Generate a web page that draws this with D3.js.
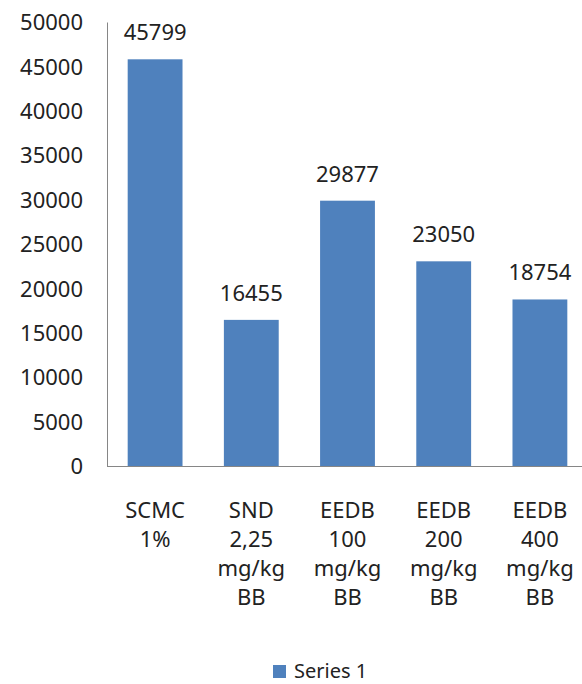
<!DOCTYPE html>
<html><head><meta charset="utf-8">
<script src="https://cdn.jsdelivr.net/npm/d3@7"></script>
<style>body{margin:0;background:#fff}svg{display:block}</style>
</head><body>
<script>
const categories = [
  ["SCMC","1%"],
  ["SND","2,25","mg/kg","BB"],
  ["EEDB","100","mg/kg","BB"],
  ["EEDB","200","mg/kg","BB"],
  ["EEDB","400","mg/kg","BB"]
];
const values = [45799, 16455, 29877, 23050, 18754];
const yTicks = [0,5000,10000,15000,20000,25000,30000,35000,40000,45000,50000];
const seriesName = "Series 1";

const W = 582, H = 684;
const font = "'Noto Sans', 'Open Sans', sans-serif";
const fs = 22;
const svg = d3.select("body").append("svg").attr("width", W).attr("height", H);

const x = d3.scaleBand().domain(d3.range(categories.length)).range([107, 588]).paddingInner(0.43).paddingOuter(0.215);
const y = d3.scaleLinear().domain([0, 50000]).range([466, 22]);

// bars
svg.selectAll("rect.bar").data(values).enter().append("rect")
  .attr("class","bar")
  .attr("x", (d,i) => x(i))
  .attr("width", x.bandwidth())
  .attr("y", d => y(d))
  .attr("height", d => y(0) - y(d))
  .attr("fill", "#4F81BD");

// axes lines
const yAxis = d3.axisLeft(y).tickValues(yTicks).tickFormat(d3.format("d")).tickSize(0).tickPadding(24);
const gy = svg.append("g").attr("transform","translate(107,0)").call(yAxis);
gy.select(".domain").attr("stroke","#868686").attr("stroke-width",1);
gy.selectAll("text").attr("font-family", font).attr("font-size", fs).attr("fill","#222").attr("dy","0.35em");

svg.append("line").attr("x1",107).attr("x2",W).attr("y1",y(0)+0.5).attr("y2",y(0)+0.5)
  .attr("stroke","#868686").attr("stroke-width",1);

// value labels
svg.selectAll("text.val").data(values).enter().append("text")
  .attr("class","val")
  .attr("x",(d,i)=>x(i)+x.bandwidth()/2)
  .attr("y", d => y(d) - 19)
  .attr("text-anchor","middle")
  .attr("font-family", font).attr("font-size", fs).attr("fill","#222")
  .text(d => d);

// category labels
const cat = svg.selectAll("text.cat").data(categories).enter().append("text")
  .attr("class","cat")
  .attr("text-anchor","middle")
  .attr("font-family", font).attr("font-size", fs).attr("fill","#222");
cat.each(function(lines,i){
  const t = d3.select(this);
  lines.forEach((l,j)=>{
    t.append("tspan").attr("x", x(i)+x.bandwidth()/2).attr("y", 518 + j*29).text(l);
  });
});

// legend
svg.append("rect").attr("x",273).attr("y",665).attr("width",13).attr("height",13).attr("fill","#4F81BD");
svg.append("text").attr("x",294).attr("y",678).attr("font-family",font).attr("font-size",20).attr("fill","#222").text(seriesName);
</script>
</body></html>
